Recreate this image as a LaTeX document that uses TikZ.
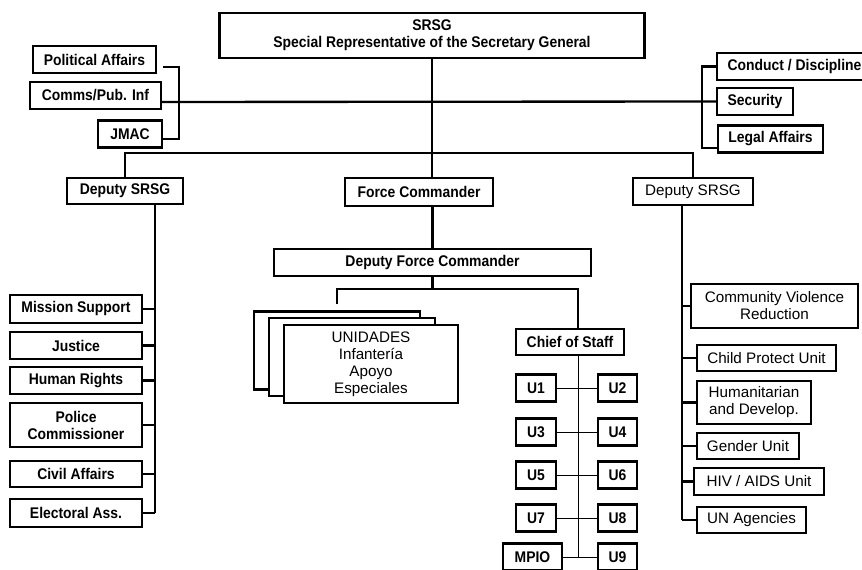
\documentclass[tikz,border=0pt]{standalone}
\usepackage{fontspec}
\setmainfont{Liberation Sans}[BoldFeatures={FakeStretch=0.9}]

\begin{document}
\begin{tikzpicture}[x=0.03cm, y=-0.03cm]
    \tikzstyle{office}=[draw, line width=2pt, inner sep=0pt, align=center, font=\bfseries\fontsize{13.2}{14.5}\selectfont]
    \tikzstyle{plain office}=[office, font=\fontsize{13}{14.5}\selectfont]
    \tikzstyle{link}=[line width=2pt]
    \tikzstyle{thin link}=[line width=0.8pt]

    \path[use as bounding box, clip] (0,0) rectangle (862,570);

    % Head of mission
    \node[office, minimum width=425*0.03cm, minimum height=45*0.03cm] (srsg) at (432,35.5) {SRSG\\Special Representative of the Secretary General};

    % Staff offices on both sides
    \foreach \name/\x/\y/\w/\txt in {pol/94.5/59.5/123/Political Affairs, comms/95.5/95.5/131/{Comms/Pub. Inf}, jmac/130/134/64/JMAC, cond/794.5/66.5/155/{Conduct / Discipline}, sec/755/101.5/76/Security, legal/770.5/139/105/Legal Affairs}
        \node[office, minimum width=\w*0.03cm, minimum height=27*0.03cm] (\name) at (\x,\y) {\txt};

    \coordinate (lbrk) at (179,102);
    \coordinate (rbrk) at (702,102);
    \draw[link] ([xshift=1.8mm,yshift=-2.2mm]pol.east) -| (lbrk) |- ([yshift=-1.5mm]jmac.east);
    \draw[link] (comms.east |- lbrk) -- (sec.west);
    \draw[link] (cond.west) -| (rbrk) |- ([yshift=-2.7mm]legal.west);

    % Second level
    \node[office, minimum width=116*0.03cm, minimum height=26*0.03cm] (dsl) at (125,191) {Deputy SRSG};
    \node[office, minimum width=148*0.03cm, minimum height=28*0.03cm] (fc) at (419,192) {Force Commander};
    \node[plain office, minimum width=120*0.03cm, minimum height=27*0.03cm] (dsr) at (693,191.5) {Deputy SRSG};

    \coordinate (bus) at (432,153);
    \draw[link] (srsg.south) -- (srsg.south |- fc.north);
    \draw[link] (dsl.north) |- (bus) -| (dsr.north);

    % Force branch
    \node[office, minimum width=317*0.03cm, minimum height=27*0.03cm] (dfc) at (432.5,262.5) {Deputy Force Commander};
    \draw[link] (fc.south -| dfc.north) -- (dfc.north);

    \foreach \name/\x/\y/\w in {back/337/350.5/166, mid/352/357/166}
        \node[plain office, fill=white, minimum width=\w*0.03cm, minimum height=78*0.03cm] (\name) at (\x,\y) {};
    \node[plain office, fill=white, minimum width=174*0.03cm, minimum height=78*0.03cm] (units) at (371,364) {UNIDADES\\Infantería\\Apoyo\\Especiales};

    \node[office, minimum width=108*0.03cm, minimum height=26*0.03cm] (cos) at (570,342) {Chief of Staff};

    \coordinate (fcbus) at (432.5,289);
    \coordinate (cosspine) at (578,342);
    \draw[link] (dfc.south) -- (fcbus);
    \draw[link] ([yshift=1.8mm]back.north) |- (fcbus) -| (cos.north -| cosspine);

    % Staff sections
    \foreach \l/\r/\y in {1/2/388, 3/4/432, 5/6/475, 7/8/518}
    {
        \node[office, minimum width=40*0.03cm, minimum height=27*0.03cm] (U-\l) at (536,\y) {U\l};
        \node[office, minimum width=39*0.03cm, minimum height=27*0.03cm] (U-\r) at (617.5,\y) {U\r};
        \draw[thin link] (U-\l) -- (U-\r);
    }
    \node[office, minimum width=59*0.03cm, minimum height=27*0.03cm] (mpio) at (532.5,557) {MPIO};
    \node[office, minimum width=39*0.03cm, minimum height=27*0.03cm] (U-9) at (617.5,557) {U9};
    \draw[thin link] (mpio) -- (U-9);
    \draw[thin link] (cos.south -| cosspine) -- (mpio.east -| cosspine);

    % Left deputy's column
    \coordinate (lspine) at (155,0);
    \foreach \name/\y/\h/\txt in {ms/309/28/Mission Support, jus/345.5/27/Justice, hr/380.5/27/Human Rights, pc/425/44/Police\\Commissioner, ca/474/26/Civil Affairs, ea/513/28/Electoral Ass.}
    {
        \node[office, minimum width=132*0.03cm, minimum height=\h*0.03cm] (\name) at (76,\y) {\txt};
        \draw[link] (\name.east) -- (\name.east -| lspine);
    }
    \draw[link] (dsl.south -| lspine) -- (ea.east -| lspine);

    % Right deputy's column
    \coordinate (rspine) at (682,0);
    \foreach \name/\x/\y/\w/\h/\txt in {cvr/774.5/306/167/44/Community Violence\\Reduction, cpu/766.5/358/139/26/Child Protect Unit, hum/754/402.5/114/43/Humanitarian\\and Develop., gen/748/446/102/26/Gender Unit, hiv/759/481.5/130/27/{HIV / AIDS Unit}, una/751.5/520/109/26/UN Agencies}
    {
        \node[plain office, minimum width=\w*0.03cm, minimum height=\h*0.03cm] (\name) at (\x,\y) {\txt};
        \draw[link] (\name.west) -- (\name.west -| rspine);
    }
    \draw[link] (dsr.south -| rspine) -- (una.west -| rspine);
\end{tikzpicture}
\end{document}
